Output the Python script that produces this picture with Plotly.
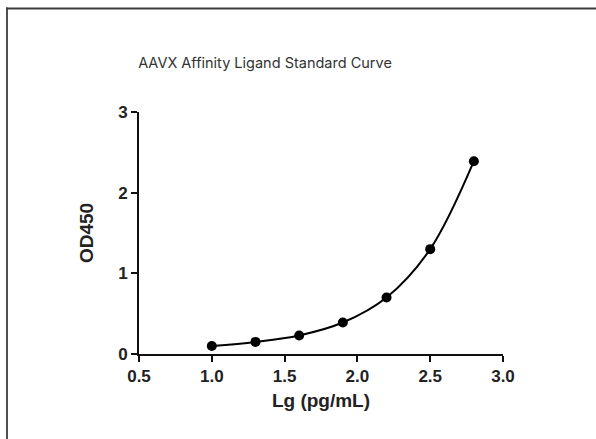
import plotly.graph_objects as go

lg_conc = [1.0, 1.3, 1.6, 1.9, 2.2, 2.5, 2.8]
od450 = [0.10, 0.15, 0.23, 0.39, 0.70, 1.30, 2.39]
x_ticks = [0.5, 1.0, 1.5, 2.0, 2.5, 3.0]
x_tick_labels = ["0.5", "1.0", "1.5", "2.0", "2.5", "3.0"]
y_ticks = [0, 1, 2, 3]
y_tick_labels = ["0", "1", "2", "3"]

fig = go.Figure()
fig.add_trace(go.Scatter(
    x=lg_conc, y=od450, mode="lines+markers",
    line=dict(color="black", width=2, shape="spline", smoothing=1.0),
    marker=dict(color="black", size=10),
    cliponaxis=False, showlegend=False, hoverinfo="skip",
))

L, R, T, B = 139, 93, 112, 85
W, H = 596, 439
pw, ph = W - L - R, H - T - B

def px_x(p):
    return (p - L) / pw

def px_y(p):
    return (H - B - p) / ph

frame = dict(color="#3c3c3c", width=1.8)
# top edge of the outer frame
fig.add_shape(type="line", xref="paper", yref="paper",
              x0=px_x(6.1), x1=px_x(W), y0=px_y(8.5), y1=px_y(8.5), line=frame)
# left edge of the outer frame
fig.add_shape(type="line", xref="paper", yref="paper",
              x0=px_x(7), x1=px_x(7), y0=px_y(7.6), y1=px_y(H), line=frame)

axis_font = dict(family="Liberation Sans, Arial, sans-serif", size=17, color="#222222", weight="bold")
title_font = dict(family="Liberation Sans, Arial, sans-serif", size=19, color="#222222", weight="bold")

fig.update_layout(
    width=W, height=H,
    margin=dict(l=L, r=R, t=T, b=B),
    paper_bgcolor="white", plot_bgcolor="white",
    hovermode=False,
    title=dict(text="AAVX Affinity Ligand Standard Curve",
               x=265 / W, xanchor="center", y=1 - 63 / H, yanchor="middle",
               font=dict(family="Inter, Roboto, sans-serif", size=14.5, color="#333333")),
    xaxis=dict(range=[0.5, 3.0], tickvals=x_ticks, ticktext=x_tick_labels,
               showgrid=False, zeroline=False, showline=True, linecolor="#111111", linewidth=2,
               ticks="outside", ticklen=6, tickwidth=2, tickcolor="#111111",
               tickfont=axis_font,
               title=dict(text="Lg (pg/mL)", font=title_font, standoff=8)),
    yaxis=dict(range=[0, 3], tickvals=y_ticks, ticktext=y_tick_labels,
               showgrid=False, zeroline=False, showline=True, linecolor="#111111", linewidth=2,
               ticks="outside", ticklen=6, tickwidth=2, tickcolor="#111111",
               tickfont=axis_font,
               title=dict(text="OD450", font=title_font, standoff=19)),
)

fig.write_html("out.html", config={"displayModeBar": False},
               post_script="document.body.style.margin='0';document.body.style.overflow='hidden';")
